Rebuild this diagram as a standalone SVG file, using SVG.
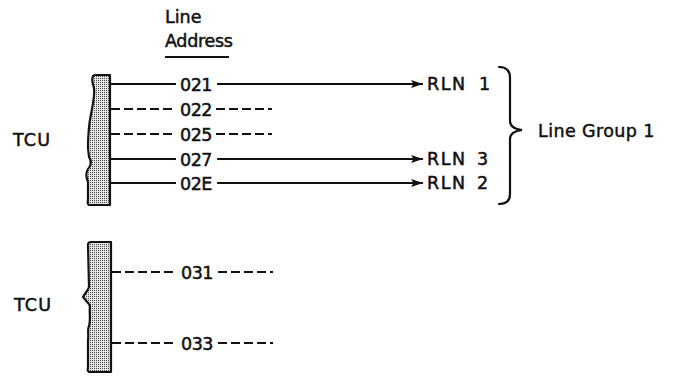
<svg xmlns="http://www.w3.org/2000/svg" width="673" height="378" viewBox="0 0 673 378">
<style>
text{font-family:"DejaVu Sans","Liberation Sans",sans-serif;font-size:17.5px;fill:#111;stroke:#111;stroke-width:0.5}
.ln{stroke:#111;stroke-width:1.8;fill:none}
.ds{stroke:#111;stroke-width:1.8;fill:none;stroke-dasharray:9 4}
.bar{fill:url(#stip);stroke:#111;stroke-width:2.2;stroke-linejoin:round}
.brace{stroke:#111;stroke-width:2.2;fill:none;stroke-linecap:round}
</style>
<defs>
<pattern id="stip" width="2" height="2" patternUnits="userSpaceOnUse">
<rect width="2" height="2" fill="#e6e6e6"/>
<rect width="1" height="1" fill="#444"/>
</pattern>
<marker id="arr" markerWidth="12" markerHeight="8" refX="12" refY="4" orient="auto" markerUnits="userSpaceOnUse">
<path d="M0,0 L12,4 L0,8 L2.5,4 Z" fill="#111"/>
</marker>
</defs>

<g id="header">
<text x="165" y="23">Line</text>
<text x="165" y="47" letter-spacing="-0.3">Address</text>
<line class="ln" x1="165" y1="57" x2="229" y2="57"/>
</g>

<g id="tcu1">
<path class="bar" d="M110,75 L110,205 L89,205 Q87,204 88,200 L88,182 C86,177 86,172 88,169 C91,166 92,161 89,157 L88,148 C88,135 89,124 91,114 C93,104 95,96 94,88 C92,82 92,78 93,76 Q94,75 96,75 Z"/>
<text x="13" y="146" letter-spacing="1.2">TCU</text>
</g>

<g id="tcu2">
<path class="bar" d="M111,242 L111,372 L89,372 Q87,371 88,368 L88,340 C89,334 87,330 89,326 C91,320 89,312 90,306 C88,302 85,300 83,297 C85,293 88,291 89,287 L88,245 Q88,242 91,242 Z"/>
<text x="14" y="311" letter-spacing="1.2">TCU</text>
</g>

<g id="connectors">
<line class="ln" x1="110" y1="84" x2="176" y2="84"/>
<line class="ln" x1="217" y1="84" x2="423" y2="84" marker-end="url(#arr)"/>
<line class="ds" x1="111" y1="109" x2="176" y2="109"/>
<line class="ds" x1="216" y1="109" x2="272" y2="109"/>
<line class="ds" x1="111" y1="134" x2="176" y2="134"/>
<line class="ds" x1="216" y1="134" x2="272" y2="134"/>
<line class="ln" x1="110" y1="159" x2="176" y2="159"/>
<line class="ln" x1="217" y1="159" x2="423" y2="159" marker-end="url(#arr)"/>
<line class="ln" x1="110" y1="183" x2="176" y2="183"/>
<line class="ln" x1="217" y1="183" x2="423" y2="183" marker-end="url(#arr)"/>
<line class="ds" x1="112" y1="272" x2="176" y2="272"/>
<line class="ds" x1="218" y1="272" x2="273" y2="272"/>
<line class="ds" x1="112" y1="343" x2="176" y2="343"/>
<line class="ds" x1="218" y1="343" x2="273" y2="343"/>
</g>

<g id="addresses">
<text x="180" y="90.5" letter-spacing="-0.5">021</text>
<text x="180" y="115.5" letter-spacing="-0.5">022</text>
<text x="180" y="140.5" letter-spacing="-0.5">025</text>
<text x="180" y="165.5" letter-spacing="-0.5">027</text>
<text x="180" y="189.5" letter-spacing="-0.5">02E</text>
<text x="181" y="278.5" letter-spacing="-0.5">031</text>
<text x="181" y="349.5" letter-spacing="-0.5">033</text>
</g>

<g id="rln1"><text x="427" y="90" letter-spacing="1.5">RLN <tspan x="479" letter-spacing="0">1</tspan></text></g>
<g id="rln3"><text x="427" y="165" letter-spacing="1.5">RLN <tspan x="477" letter-spacing="0">3</tspan></text></g>
<g id="rln2"><text x="427" y="189" letter-spacing="1.5">RLN <tspan x="477" letter-spacing="0">2</tspan></text></g>

<g id="group1">
<path class="brace" d="M499,67 C506,67 510,70 510,78 L510,121 C510,126 514,129 522,130 C514,131 510,134 510,139 L510,194 C510,201 506,204 499,204"/>
<text x="538" y="137" letter-spacing="0.4">Line Group 1</text>
</g>
</svg>
